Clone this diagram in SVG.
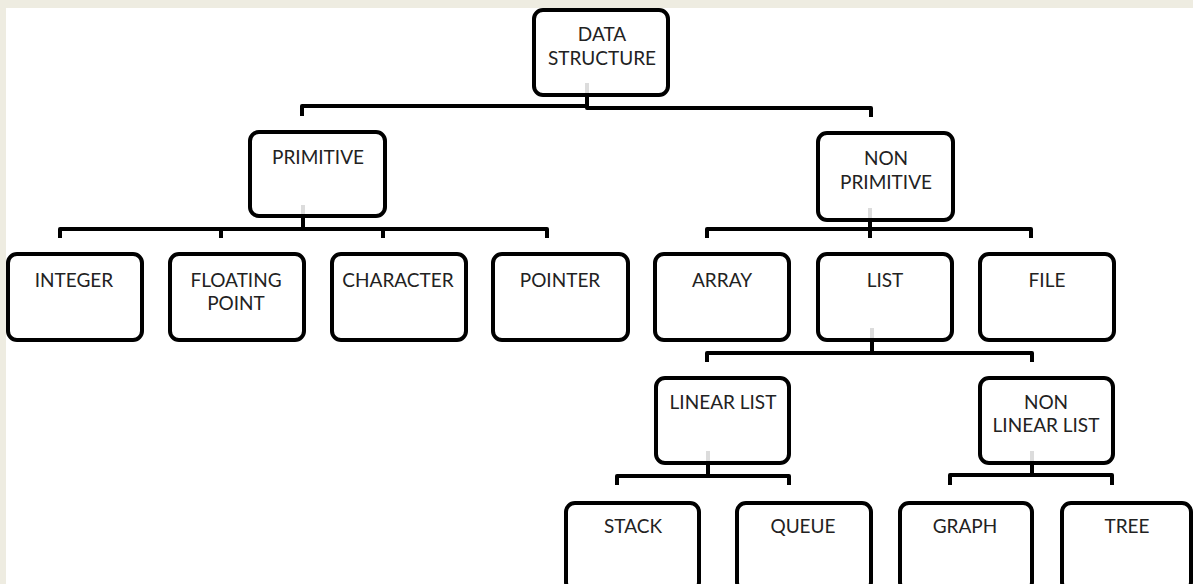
<svg xmlns="http://www.w3.org/2000/svg" width="1193" height="584" viewBox="0 0 1193 584">
<style>
.box{fill:#fff;stroke:#000;stroke-width:4}
.t{font-family:Lato,"Open Sans","Liberation Sans",sans-serif;font-size:19px;fill:#222;text-anchor:middle}
.c{fill:none;stroke:#000;stroke-width:4;stroke-linejoin:round}
.g{stroke:#dcdcdc;stroke-width:4}
</style>
<rect width="1193" height="584" fill="#EEECE1"/>
<rect x="6" y="8" width="1187" height="576" fill="#fff"/>
<g id="connectors">
<path class="c" d="M302,116 V106 H589 M587,95 V108 H871 V117"/>
<path class="c" d="M303,216 V229 M60,238 V229 H547 V238 M221,229 V238 M383,229 V238"/>
<path class="c" d="M870,220 V238 M707,238 V229 H1031 V238"/>
<path class="c" d="M872,340 V353 M707,362 V353 H1032 V362"/>
<path class="c" d="M708,463 V476 M617,485 V476 H789 V485"/>
<path class="c" d="M1032,463 V475 M950,485 V475 H1112 V485"/>
</g>
<g id="n-data-structure"><rect class="box" x="534" y="10" width="134" height="85" rx="9"/><line class="g" x1="587" y1="83" x2="587" y2="93"/><text class="t" x="602" y="41">DATA</text><text class="t" x="602" y="65">STRUCTURE</text></g>
<g id="n-primitive"><rect class="box" x="250" y="132" width="135" height="84" rx="9"/><line class="g" x1="303" y1="205" x2="303" y2="214"/><text class="t" x="318" y="164">PRIMITIVE</text></g>
<g id="n-non-primitive"><rect class="box" x="818" y="133" width="135" height="87" rx="9"/><line class="g" x1="870" y1="208" x2="870" y2="218"/><text class="t" x="886" y="165">NON</text><text class="t" x="886" y="189">PRIMITIVE</text></g>
<g id="n-integer"><rect class="box" x="8" y="254" width="134" height="86" rx="9"/><text class="t" x="74" y="287">INTEGER</text></g>
<g id="n-floating-point"><rect class="box" x="170" y="254" width="134" height="86" rx="9"/><text class="t" x="236" y="287">FLOATING</text><text class="t" x="236" y="310">POINT</text></g>
<g id="n-character"><rect class="box" x="332" y="254" width="134" height="86" rx="9"/><text class="t" x="398" y="287">CHARACTER</text></g>
<g id="n-pointer"><rect class="box" x="493" y="254" width="135" height="86" rx="9"/><text class="t" x="560" y="287">POINTER</text></g>
<g id="n-array"><rect class="box" x="655" y="254" width="134" height="86" rx="9"/><text class="t" x="722" y="287">ARRAY</text></g>
<g id="n-list"><rect class="box" x="818" y="254" width="134" height="86" rx="9"/><line class="g" x1="872" y1="328" x2="872" y2="338"/><text class="t" x="885" y="287">LIST</text></g>
<g id="n-file"><rect class="box" x="980" y="254" width="134" height="86" rx="9"/><text class="t" x="1047" y="287">FILE</text></g>
<g id="n-linear-list"><rect class="box" x="656" y="378" width="133" height="85" rx="9"/><line class="g" x1="708" y1="451" x2="708" y2="461"/><text class="t" x="723" y="409">LINEAR LIST</text></g>
<g id="n-non-linear-list"><rect class="box" x="980" y="378" width="133" height="85" rx="9"/><line class="g" x1="1032" y1="451" x2="1032" y2="461"/><text class="t" x="1046" y="409">NON</text><text class="t" x="1046" y="432">LINEAR LIST</text></g>
<g id="n-stack"><rect class="box" x="566" y="503" width="133" height="88" rx="9"/><text class="t" x="633" y="533">STACK</text></g>
<g id="n-queue"><rect class="box" x="737" y="503" width="134" height="88" rx="9"/><text class="t" x="803" y="533">QUEUE</text></g>
<g id="n-graph"><rect class="box" x="900" y="503" width="132" height="88" rx="9"/><text class="t" x="965" y="533">GRAPH</text></g>
<g id="n-tree"><rect class="box" x="1062" y="503" width="129" height="88" rx="9"/><text class="t" x="1127" y="533">TREE</text></g>
</svg>
